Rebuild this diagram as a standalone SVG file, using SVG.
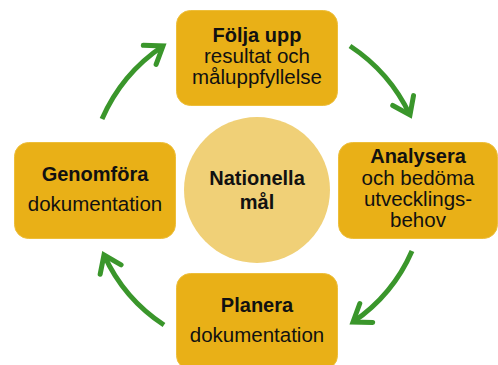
<svg xmlns="http://www.w3.org/2000/svg" width="498" height="365" viewBox="0 0 498 365">
<style>
.box{fill:#E9B017;stroke:#EDBE3A;stroke-width:1}
.hub{fill:#F0D077}
text{font-family:"Liberation Sans",Arial,sans-serif;font-size:20.5px;fill:#111;text-anchor:middle}
.b{font-weight:bold;font-size:20px}
.arc{fill:none;stroke:#3A962B;stroke-width:5;stroke-linecap:butt}
</style>
<defs>
<marker id="head" markerUnits="userSpaceOnUse" orient="auto" markerWidth="40" markerHeight="40" refX="0" refY="0" viewBox="-25 -20 40 40" overflow="visible">
<path d="M-16,-11.5 L0,0 L-16,11.5" fill="none" stroke="#3A962B" stroke-width="5" stroke-linejoin="miter" stroke-linecap="round"/>
</marker>
</defs>
<rect width="498" height="365" fill="#fff"/>
<g id="connectors">
<path class="arc" d="M102,119 A170,170 0 0 1 163,46" marker-end="url(#head)"/>
<path class="arc" d="M350,46 A170,170 0 0 1 410,115" marker-end="url(#head)"/>
<path class="arc" d="M412,251 A166,166 0 0 1 353,322" marker-end="url(#head)"/>
<path class="arc" d="M164,325 A166,166 0 0 1 104,255" marker-end="url(#head)"/>
</g>
<g id="nationella">
<circle class="hub" cx="257" cy="190" r="73"/>
<text class="b" x="257" y="185">Nationella</text>
<text class="b" x="257" y="209">mål</text>
</g>
<g id="folja">
<rect class="box" x="176.5" y="10.5" width="161" height="95" rx="14"/>
<text class="b" x="257" y="42">Följa upp</text>
<text x="257" y="63">resultat och</text>
<text x="257" y="84">måluppfyllelse</text>
</g>
<g id="analysera">
<rect class="box" x="338.5" y="142.5" width="159" height="96" rx="14"/>
<text class="b" x="418" y="163">Analysera</text>
<text x="418" y="185">och bedöma</text>
<text x="418" y="206">utvecklings-</text>
<text x="418" y="227">behov</text>
</g>
<g id="planera">
<rect class="box" x="176.5" y="273.5" width="161" height="96" rx="14"/>
<text class="b" x="257" y="312">Planera</text>
<text x="257" y="342">dokumentation</text>
</g>
<g id="genomfora">
<rect class="box" x="14.5" y="142.5" width="161" height="96" rx="14"/>
<text class="b" x="95" y="181">Genomföra</text>
<text x="95" y="211">dokumentation</text>
</g>
</svg>
